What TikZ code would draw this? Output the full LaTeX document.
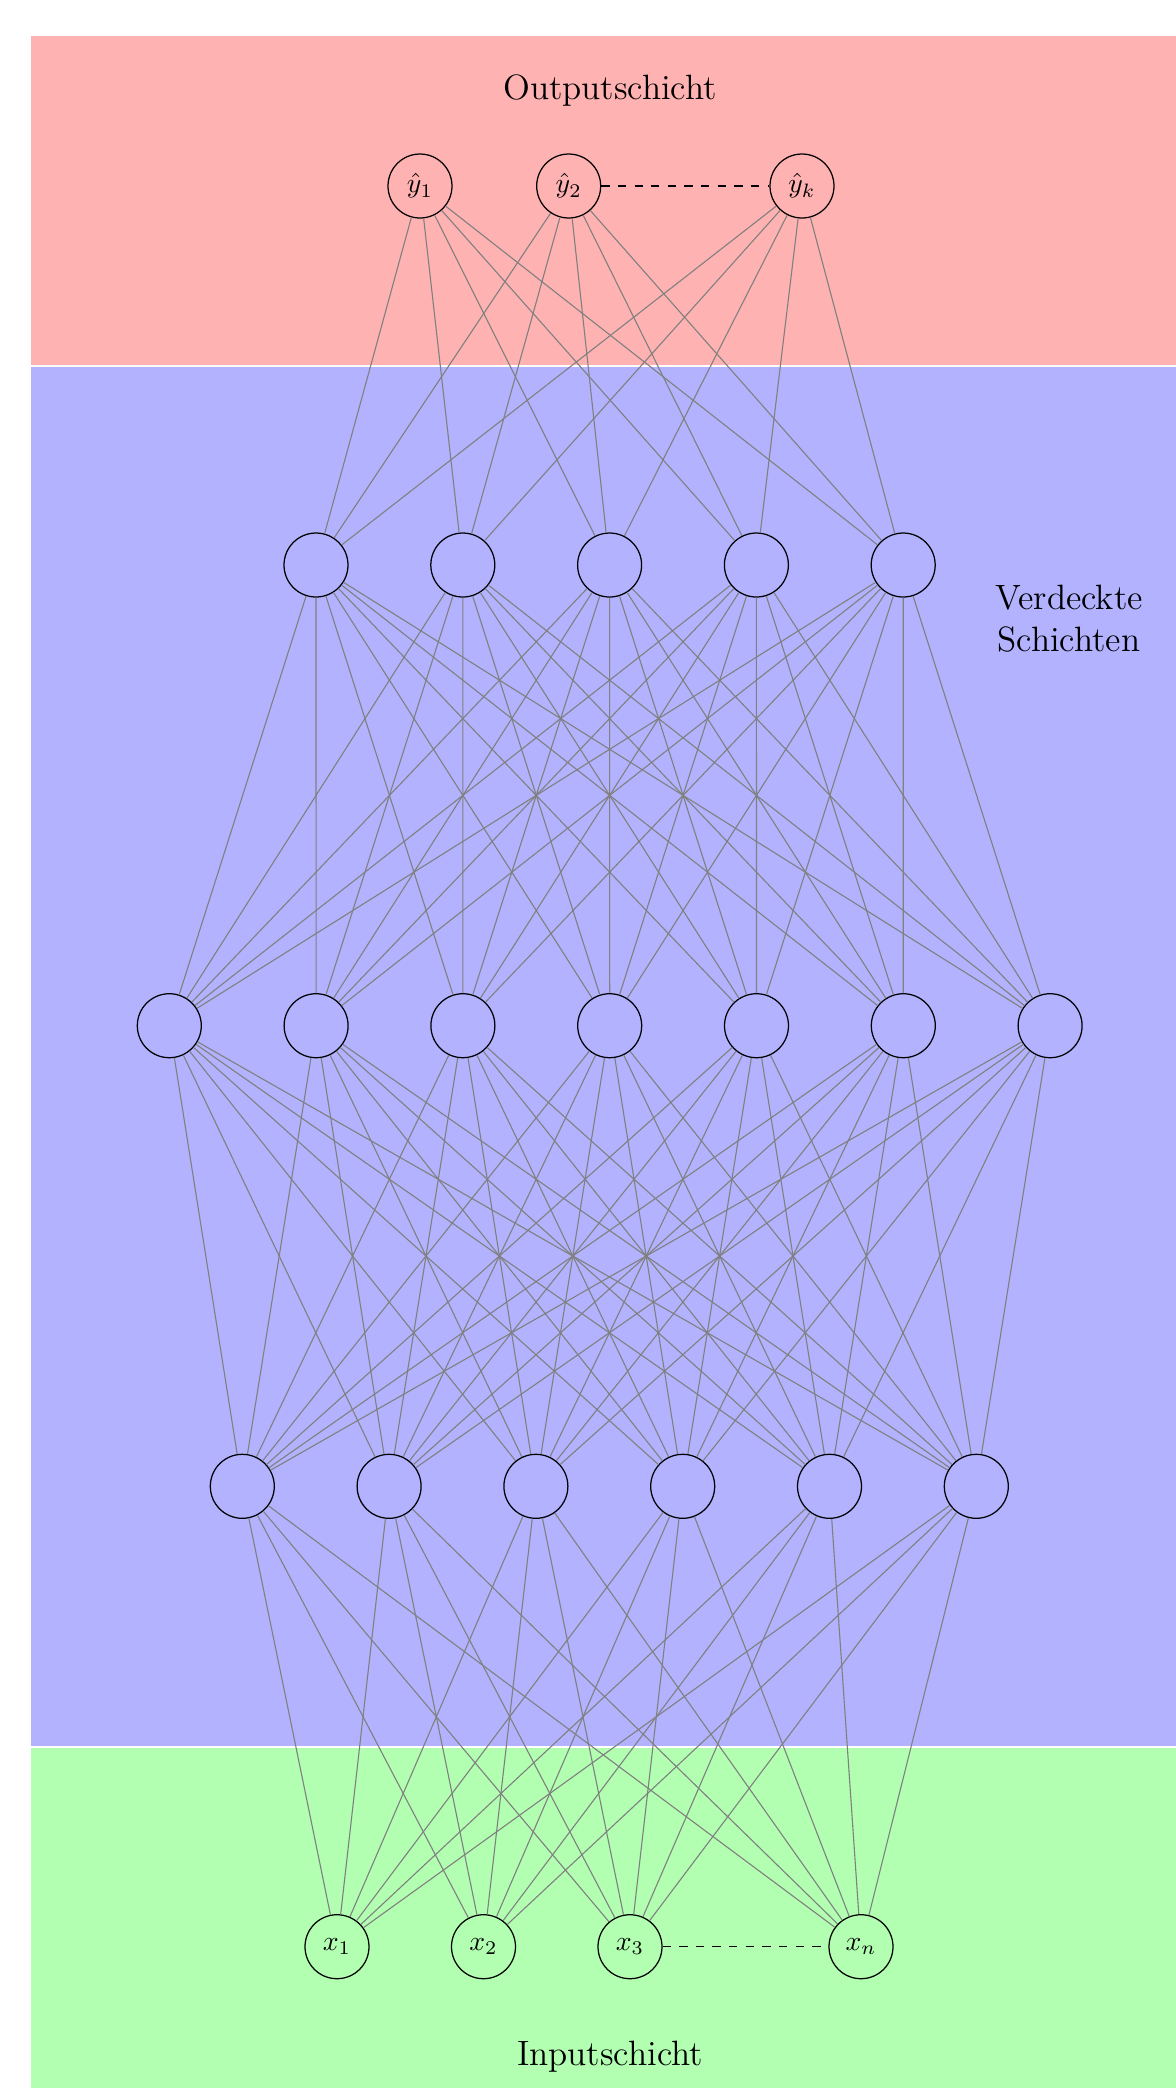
\documentclass[tikz,border=0pt]{standalone}
\begin{document}
\begin{tikzpicture}[x=0.361pt,y=-0.361pt,
  neuron/.style={circle,draw=black,line width=0.45pt,minimum size=23.1pt,inner sep=0pt},
  conn/.style={gray,line width=0.4pt},
  band/.style={draw=white,line width=0.7pt},
  layerlabel/.style={font=\fontsize{12.7}{15.2}\selectfont,align=center}]
\useasboundingbox (0,0) rectangle (1176,2088);
\fill[white] (0,0) rectangle (1176,2088);
\filldraw[band,fill=red!30] (30,35) rectangle (1182,366);
\filldraw[band,fill=blue!30] (30,366) rectangle (1182,1747);
\filldraw[band,fill=green!30] (30,1747) rectangle (1182,2094);

\node[layerlabel] (tout) at (610,91) {Outputschicht};
\node[layerlabel] (thid) at (1069,619) {Verdeckte\\Schichten};
\node[layerlabel] (tin) at (610,2057) {Inputschicht};

\node[neuron] (o1) at (420,186) {$\hat{y}_1$};
\node[neuron] (o2) at (568.7,186) {$\hat{y}_2$};
\node[neuron] (ok) at (802,186) {$\hat{y}_k$};
\foreach \i in {1,...,5} \node[neuron] (a\i) at ({316+146.8*(\i-1)},565) {};
\foreach \i in {1,...,7} \node[neuron] (b\i) at ({169.3+146.8*(\i-1)},1025.7) {};
\foreach \i in {1,...,6} \node[neuron] (c\i) at ({242.3+146.8*(\i-1)},1486.3) {};
\node[neuron] (x1) at (337,1946.7) {$x_1$};
\node[neuron] (x2) at (483.5,1946.7) {$x_2$};
\node[neuron] (x3) at (630,1946.7) {$x_3$};
\node[neuron] (xn) at (861,1946.7) {$x_n$};

\foreach \o in {o1,o2,ok} \foreach \j in {1,...,5} \draw[conn] (\o) -- (a\j);
\foreach \i in {1,...,5} \foreach \j in {1,...,7} \draw[conn] (a\i) -- (b\j);
\foreach \i in {1,...,7} \foreach \j in {1,...,6} \draw[conn] (b\i) -- (c\j);
\foreach \i in {1,...,6} \foreach \x in {x1,x2,x3,xn} \draw[conn] (c\i) -- (\x);

\draw[dashed,line width=0.4pt] (o2) -- (ok);
\draw[dashed,line width=0.4pt] (x3) -- (xn);
\end{tikzpicture}
\end{document}
